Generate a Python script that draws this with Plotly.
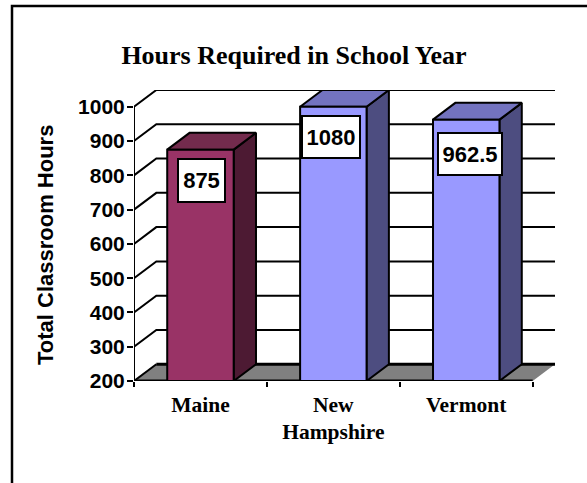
import plotly.graph_objects as go

W, H = 587, 483
categories = ["Maine", "New<br>Hampshire", "Vermont"]
values = [875, 1080, 962.5]
y_ticks = [200, 300, 400, 500, 600, 700, 800, 900, 1000]
title_text = "Hours Required in School Year"
y_title = "Total Classroom Hours"
value_labels = ["875", "1080", "962.5"]

# chart scale
YMIN, YMAX = 200, 1000
DX, DY = 0.168, 49          # oblique depth in axis units
BAR = 0.5
L, R, T, B = 134, 555, 90, 381

front = ["#993366", "#9999FF", "#9999FF"]
side = ["#4D1A33", "#4D4D80", "#4D4D80"]
top = ["#732B4D", "#7373BF", "#7373BF"]
box_w = [49, 60, 66]
box_h = [45, 44, 44]
lab_dx = [1, -2, 3.5]
lab_dy = [30.5, 30, 34]

fig = go.Figure()


def line(xs, ys, width=2, color="black"):
    fig.add_trace(go.Scatter(x=xs, y=ys, mode="lines", cliponaxis=False, hoverinfo="skip",
                             line=dict(color=color, width=width), showlegend=False))


def poly(xs, ys, fill, lw=2, lc="black"):
    fig.add_trace(go.Scatter(x=xs + xs[:1], y=ys + ys[:1], mode="lines", fill="toself", fillcolor=fill,
                             cliponaxis=False, hoverinfo="skip",
                             line=dict(color=lc, width=lw), showlegend=False))


x0, x1 = -0.5, 2.5
# floor
poly([x0, x0 + DX, x1 + DX, x1], [YMIN, YMIN + DY, YMIN + DY, YMIN], "#808080", 0, "#808080")
line([x0 + DX, x1 + DX], [YMIN + DY, YMIN + DY], 3)
line([x0, x0 + DX], [YMIN, YMIN + DY], 2)
# walls
for v in y_ticks[1:]:
    line([x0, x0 + DX, x1 + DX], [v, v + DY, v + DY])
# axes
line([x0, x0], [YMIN, YMAX])
line([x0, x1], [YMIN, YMIN], 3)

# bars
for i, v in enumerate(values):
    v = min(v, YMAX)
    a, b = i - BAR / 2, i + BAR / 2
    poly([b, b + DX, b + DX, b], [YMIN, YMIN + DY, v + DY, v], side[i])
    poly([a, a + DX, b + DX, b], [v, v + DY, v + DY, v], top[i])
    poly([a, b, b, a], [YMIN, YMIN, v, v], front[i])

px = lambda x: (x - L) / (R - L)
py = lambda y: (B - y) / (B - T)

annotations = []
for i, v in enumerate(values):
    annotations.append(dict(x=i, y=min(v, YMAX), xref="x", yref="y", text=value_labels[i], showarrow=False,
                            xshift=lab_dx[i], yshift=-lab_dy[i], width=box_w[i] - 4, height=box_h[i] - 4,
                            bgcolor="white", bordercolor="black", borderwidth=2, borderpad=0,
                            font=dict(family="Liberation Sans", size=22, color="black", weight="bold"),
                            align="center", valign="middle"))
# axis title, placed by hand because it sits lower than the middle of the axis
annotations.append(dict(x=px(45), y=py(245), xref="paper", yref="paper", text=y_title, showarrow=False,
                        textangle=-90, xanchor="center", yanchor="middle",
                        font=dict(family="Liberation Sans", size=22, color="black", weight="bold")))

# frame: only its top and left edges fall inside the page
shapes = [dict(type="rect", xref="paper", yref="paper", x0=px(12), x1=px(W + 20), y0=py(H + 20), y1=py(6),
               line=dict(color="black", width=2.5), fillcolor="rgba(0,0,0,0)", layer="below")]

fig.update_layout(
    width=W, height=H, paper_bgcolor="white", plot_bgcolor="white", showlegend=False,
    margin=dict(l=L, r=W - R, t=T, b=H - B, autoexpand=False),
    title=dict(text=title_text, x=294 / W, xanchor="center", y=1 - 55 / H, yanchor="middle",
               font=dict(family="Liberation Serif", size=26, color="black", weight="bold")),
    xaxis=dict(range=[x0, x1 + DX], tickmode="array", tickvals=[0, 1, 2], ticktext=categories,
               ticks="", showgrid=False, zeroline=False, showline=False, tickangle=0,
               ticklabelstandoff=8,
               tickfont=dict(family="Liberation Serif", size=21.5, color="black", weight="bold"),
               minor=dict(tickmode="array", tickvals=[-0.5, 0.5, 1.5, 2.5], ticks="outside",
                          ticklen=5, tickwidth=2, tickcolor="black", showgrid=False)),
    yaxis=dict(range=[YMIN, YMAX + DY], tickmode="array", tickvals=y_ticks, ticks="outside", ticklen=6,
               tickwidth=2, tickcolor="black", showgrid=False, zeroline=False, showline=False,
               ticklabelstandoff=-2,
               tickfont=dict(family="Liberation Sans", size=21, color="black", weight="bold")),
    annotations=annotations, shapes=shapes,
)

fig.write_html("out.html", config={"displayModeBar": False},
               post_script="document.body.style.margin='0';")
